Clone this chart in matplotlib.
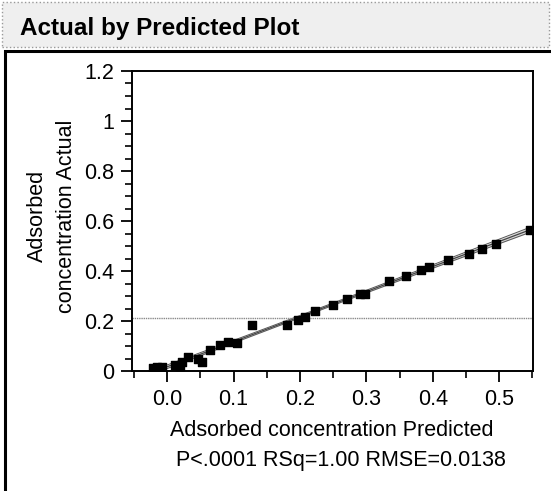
import numpy as np
import matplotlib.pyplot as plt
from matplotlib.patches import Rectangle
from matplotlib.ticker import MultipleLocator, FormatStrFormatter

plt.rcParams['font.family'] = ['Liberation Sans', 'DejaVu Sans']

# values
predicted = [-0.021, -0.015, -0.008, 0.012, 0.02, 0.023, 0.032, 0.047, 0.053, 0.065,
             0.08, 0.092, 0.105, 0.128, 0.18, 0.197, 0.208, 0.223, 0.25, 0.271,
             0.29, 0.298, 0.334, 0.36, 0.383, 0.395, 0.423, 0.455, 0.474, 0.496, 0.546]
actual = [0.012, 0.015, 0.015, 0.025, 0.02, 0.035, 0.055, 0.05, 0.038, 0.085,
          0.105, 0.118, 0.112, 0.185, 0.185, 0.205, 0.218, 0.242, 0.266, 0.29,
          0.31, 0.31, 0.362, 0.38, 0.404, 0.418, 0.444, 0.47, 0.488, 0.51, 0.565]
mean_actual = 0.213
ytick_vals = [0, 0.2, 0.4, 0.6, 0.8, 1.0, 1.2]
ytick_labels = ['0', '0.2', '0.4', '0.6', '0.8', '1', '1.2']
stats_text = 'P<.0001 RSq=1.00 RMSE=0.0138'

x = np.array(predicted)
y = np.array(actual)

# fit line and 95% confidence curves
slope, icpt = np.polyfit(x, y, 1)
n = len(x)
resid = y - (slope * x + icpt)
s = np.sqrt(np.sum(resid ** 2) / (n - 2))
xs = np.linspace(-0.02, 0.551, 200)
fit = slope * xs + icpt
se = s * np.sqrt(1.0 / n + (xs - x.mean()) ** 2 / np.sum((x - x.mean()) ** 2))
lo = fit - 2.04 * se
hi = fit + 2.04 * se

fig = plt.figure(figsize=(5.51, 4.91), dpi=100)

# title band and panel frame
fig.patches.append(Rectangle((0.004, 1 - 47 / 491), 0.992, 45 / 491, transform=fig.transFigure,
                             facecolor='#efefef', edgecolor='#999999', linestyle=':', lw=1))
fig.text(20 / 551, 1 - 35 / 491, 'Actual by Predicted Plot', fontsize=17.5, fontweight='bold',
         va='baseline', ha='left')
fig.patches.append(Rectangle((5 / 551, -0.05), 1.05, 1 - 51 / 491 + 0.05, transform=fig.transFigure,
                             facecolor='none', edgecolor='black', lw=2.2))

ax = fig.add_axes([132 / 551, 1 - 371 / 491, 401 / 551, 300 / 491])
ax.fill_between(xs, lo, hi, color='#d8d8d8', lw=0)
ax.plot(xs, fit, color='#444444', lw=0.9)
ax.plot(xs, lo, color='#555555', lw=0.7)
ax.plot(xs, hi, color='#555555', lw=0.7)
ax.axhline(mean_actual, color='#8a8a8a', lw=1.0, ls=(0, (1, 0.6)))
ax.scatter(x, y, marker='s', s=30, color='black', zorder=3)

ax.set_xlim(-0.053, 0.551)
ax.set_ylim(0, 1.2)
ax.xaxis.set_major_locator(MultipleLocator(0.1))
ax.xaxis.set_minor_locator(MultipleLocator(0.05))
ax.xaxis.set_major_formatter(FormatStrFormatter('%.1f'))
ax.set_yticks(ytick_vals)
ax.set_yticklabels(ytick_labels)
ax.yaxis.set_minor_locator(MultipleLocator(0.05))
ax.tick_params(which='major', direction='out', length=8, width=1.3, labelsize=15.5, pad=5)
ax.tick_params(which='minor', direction='out', length=5, width=1.2)
for sp in ax.spines.values():
    sp.set_linewidth(1.4)

fig.text(332 / 551, 1 - 436 / 491, 'Adsorbed concentration Predicted', fontsize=15.5,
         ha='center', va='baseline')
fig.text(341 / 551, 1 - 466 / 491, stats_text, fontsize=15.5, ha='center', va='baseline')
fig.text(52 / 551, 1 - 216 / 491, 'Adsorbed\nconcentration Actual', fontsize=15.5,
         rotation=90, ha='center', va='center', multialignment='center', linespacing=1.45)

fig.savefig('out.png', dpi=100)
